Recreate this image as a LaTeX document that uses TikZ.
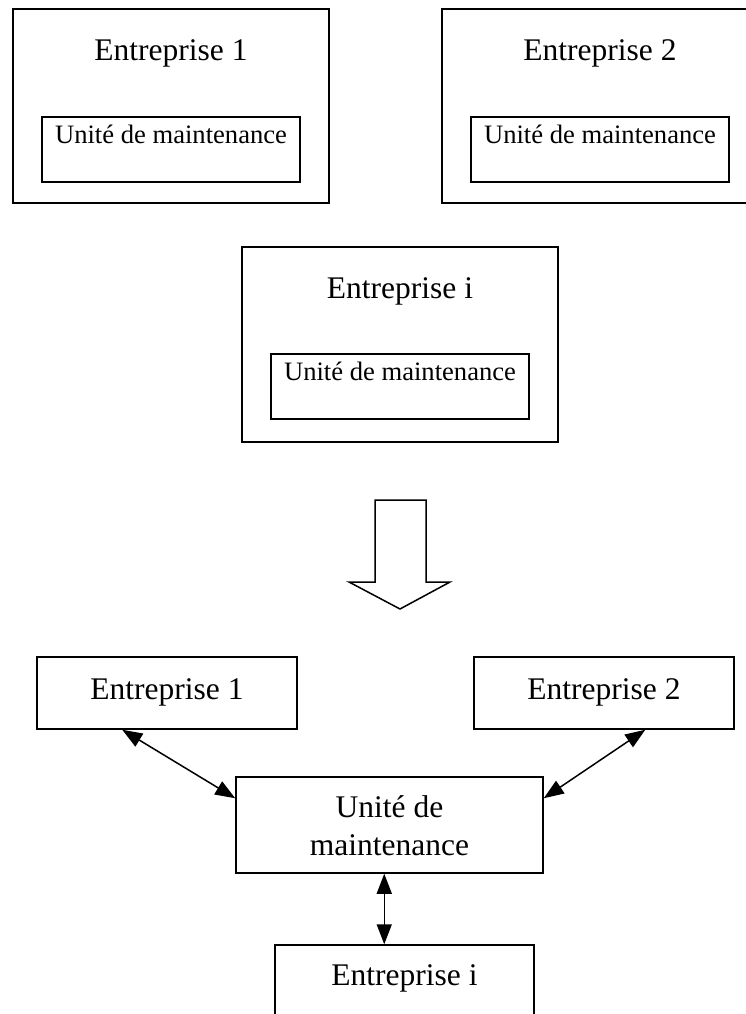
\documentclass[tikz,border=0pt]{standalone}
\usepackage{fontspec}
\setmainfont{Liberation Serif}
\usetikzlibrary{arrows.meta,calc}

\tikzset{
  box/.style={draw=black, line width=1.5pt, rectangle, inner sep=0pt},
  big/.style={anchor=base, inner sep=0pt, font=\fontsize{31.5}{37.8}\selectfont},
  small/.style={anchor=base, inner sep=0pt, font=\fontsize{26.6}{32}\selectfont},
  link/.style={line width=1.5pt,
    {Triangle[length=20pt,width=15pt]}-{Triangle[length=20pt,width=15pt]}},
  bigarrow/.style={draw=black, line width=1.5pt, line join=miter, fill=white}
}

\begin{document}
\begin{tikzpicture}[x=1pt, y=-1pt]
\useasboundingbox (0,0) rectangle (746,1014);
\clip (0,0) rectangle (746,1014);

% ---- separate companies, each with its own maintenance unit ----
\node[box, minimum width=316pt, minimum height=194pt] (oe1) at (171,106) {};
\node[box, minimum width=258pt, minimum height=65pt]  (ou1) at (171,149.5) {};
\node[big]   (te1) at (171,61)  {Entreprise 1};
\node[small] (tu1) at (171,143) {Unité de maintenance};

\node[box, minimum width=316pt, minimum height=194pt] (oe2) at (600,106) {};
\node[box, minimum width=258pt, minimum height=65pt]  (ou2) at (600,149.5) {};
\node[big]   (te2) at (600,61)  {Entreprise 2};
\node[small] (tu2) at (600,143) {Unité de maintenance};

\node[box, minimum width=316pt, minimum height=195pt] (oei) at (400,344.5) {};
\node[box, minimum width=258pt, minimum height=65pt]  (oui) at (400,386.5) {};
\node[big]   (tei) at (400,298) {Entreprise i};
\node[small] (tui) at (400,380) {Unité de maintenance};

% ---- transition arrow ----
\draw[bigarrow] (375,500) -- (426,500) -- (426,582) -- (450,582) -- (400,609)
  -- (349,582) -- (375,582) -- cycle;

% ---- shared maintenance unit ----
\node[box, minimum width=260pt, minimum height=72pt] (e1) at (167,693) {};
\node[big] at (167,699) {Entreprise 1};

\node[box, minimum width=260pt, minimum height=72pt] (e2) at (604,693) {};
\node[big] at (604,699) {Entreprise 2};

\node[box, minimum width=307pt, minimum height=96pt] (u) at (389.5,825) {};
\node[big] at (389.5,817) {Unité de};
\node[big] at (389.5,855) {maintenance};

\node[box, minimum width=259pt, minimum height=120pt] (ei) at (404.5,1005) {};
\node[big] at (404.5,985) {Entreprise i};

% connectors
\draw[link] ($(e1.south west)+(86,0)$) -- ($(u.north west)+(0,22)$);
\draw[link] ($(e2.south west)+(172,0)$) -- ($(u.north east)+(0,22)$);
\coordinate (ub) at ($(u.south west)+(149,0)$);
\draw[link] (ub) -- (ub |- ei.north);
\end{tikzpicture}
\end{document}
